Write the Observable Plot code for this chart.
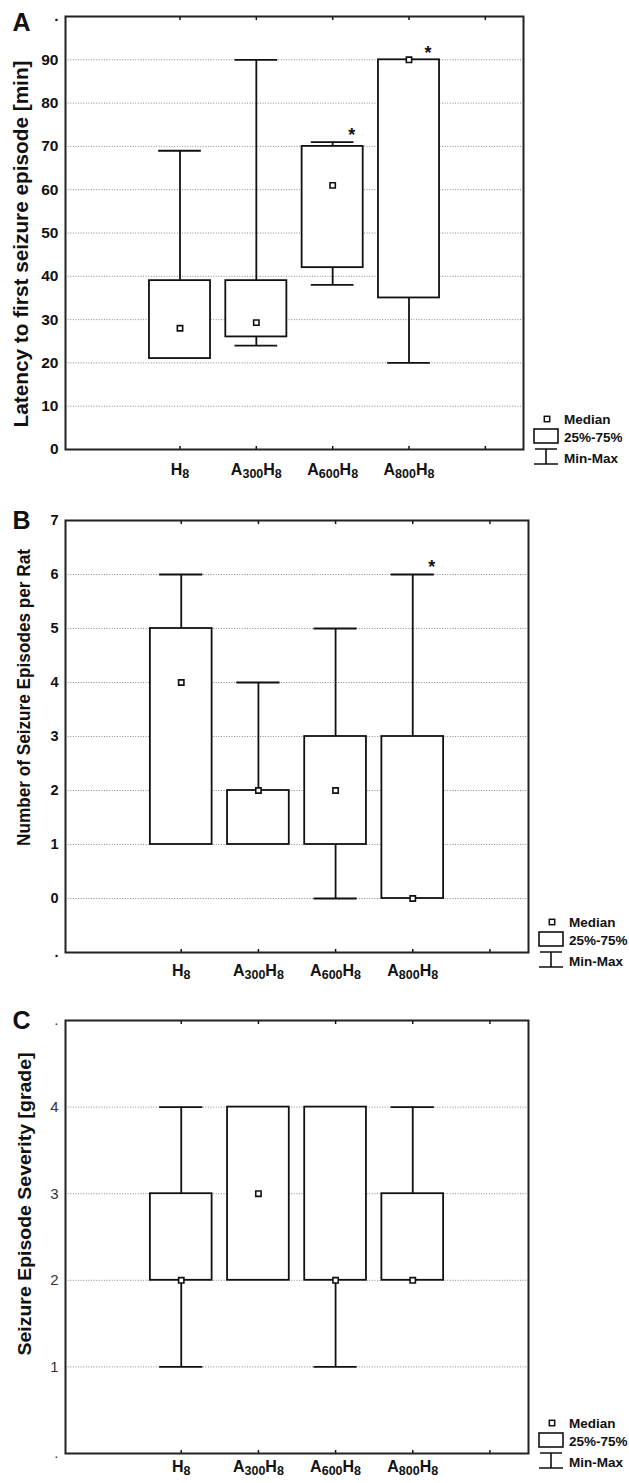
<!DOCTYPE html>
<html><head><meta charset="utf-8">
<script src="https://cdn.jsdelivr.net/npm/d3@7"></script>
<script src="https://cdn.jsdelivr.net/npm/@observablehq/plot@0.6"></script>
<style>
body{margin:0;background:#fff;font-family:"Liberation Sans",Arial,sans-serif;}
#wrap{position:relative;width:629px;height:1483px;overflow:hidden;background:#fff;}
.panel{position:absolute;left:0;}
.legend{position:absolute;}
</style></head><body><div id="wrap"></div>
<script>
// ---- data ----
const groups = ["H₈", "A₃₀₀H₈", "A₆₀₀H₈", "A₈₀₀H₈"];

const latencyMin    = [21, 24, 38, 20];
const latencyQ1     = [21, 26, 42, 35];
const latencyMedian = [28, 29.3, 61, 90];
const latencyQ3     = [39, 39, 70, 90];
const latencyMax    = [69, 90, 71, 90];
const latencySig    = [false, false, true, true];
const latencyTicks  = [0, 10, 20, 30, 40, 50, 60, 70, 80, 90, 100];

const episodesMin    = [1, 1, 0, 0];
const episodesQ1     = [1, 1, 1, 0];
const episodesMedian = [4, 2, 2, 0];
const episodesQ3     = [5, 2, 3, 3];
const episodesMax    = [6, 4, 5, 6];
const episodesSig    = [false, false, false, true];
const episodesTicks  = [-1, 0, 1, 2, 3, 4, 5, 6, 7];

const severityMin    = [1, 2, 1, 2];
const severityQ1     = [2, 2, 2, 2];
const severityMedian = [2, 3, 2, 2];
const severityQ3     = [3, 4, 4, 3];
const severityMax    = [4, 4, 4, 4];
const severitySig    = [false, false, false, false];
const severityTicks  = [0, 1, 2, 3, 4, 5];

const legendLabels = ["Median", "25%-75%", "Min-Max"];

// ---- drawing ----
const FONT = "'Liberation Sans', Arial, sans-serif";
const wrap = document.getElementById("wrap");
const BOX_HALF = 0.4, CAP_HALF = 0.28;

function panel(cfg) {
  const rows = groups.map((g, i) => ({
    i, g, min: cfg.min[i], q1: cfg.q1[i], med: cfg.med[i], q3: cfg.q3[i], max: cfg.max[i], sig: cfg.sig[i]
  }));
  const ends = [cfg.ticks[0], cfg.ticks[cfg.ticks.length - 1]];
  const chart = Plot.plot({
    width: 629, height: cfg.height,
    marginLeft: 65, marginRight: cfg.marginRight, marginTop: cfg.marginTop, marginBottom: cfg.marginBottom,
    style: {fontFamily: FONT, background: "white", overflow: "visible", color: "#111"},
    x: {type: "linear", domain: [-1.5, 4.5]},
    y: {domain: ends},
    marks: [
      Plot.gridY(cfg.ticks.filter(t => !ends.includes(t)), {stroke: "#8c8c8c", strokeOpacity: 1, strokeDasharray: "1,1.6", strokeWidth: 1}),
      Plot.ruleX(rows, {x: "i", y1: "min", y2: "max", stroke: "#111", strokeWidth: 1.8}),
      Plot.ruleY(rows.filter(d => d.max > d.q3), {y: "max", x1: d => d.i - CAP_HALF, x2: d => d.i + CAP_HALF, stroke: "#111", strokeWidth: 1.8}),
      Plot.ruleY(rows.filter(d => d.min < d.q1), {y: "min", x1: d => d.i - CAP_HALF, x2: d => d.i + CAP_HALF, stroke: "#111", strokeWidth: 1.8}),
      Plot.rect(rows, {x1: d => d.i - BOX_HALF, x2: d => d.i + BOX_HALF, y1: "q1", y2: "q3", fill: "white", stroke: "#111", strokeWidth: 1.8}),
      Plot.dot(rows, {x: "i", y: "med", symbol: "square", r: 3, fill: "white", stroke: "#111", strokeWidth: 1.6}),
      Plot.text(rows.filter(d => d.sig), {x: "i", y: "max", text: () => "*", dx: 19, dy: -7, fontSize: 18, fontWeight: "bold", fill: "#111"}),
      Plot.axisY({ticks: cfg.ticks, tickFormat: t => (ends.includes(t) && cfg.dotEnds.includes(t)) ? "." : String(t),
        tickSize: 0, tickPadding: 7, fontSize: cfg.yFont, fontWeight: cfg.yWeight, fill: cfg.yColor, label: null}),
      Plot.axisX({ticks: [0, 1, 2, 3, 4], tickFormat: i => groups[i] ?? "", tickSize: 0, tickPadding: cfg.xPad,
        fontSize: 16, fontWeight: "bold", label: null}),
      Plot.axisX({anchor: "bottom", ticks: [0, 1, 2, 3, 4], tickSize: -3, tickFormat: () => "", label: null, strokeWidth: 1.5}),
      Plot.axisX({anchor: "top", ticks: [0, 1, 2, 3, 4], tickSize: -3, tickFormat: () => "", label: null, strokeWidth: 1.5}),
      Plot.frame({stroke: "#222", strokeWidth: 2}),
      Plot.text([cfg.title], {frameAnchor: "left", rotate: -90, dx: cfg.titleDx, dy: cfg.titleDy, lineAnchor: "top",
        textAnchor: "middle", fontSize: cfg.titleFont, fontWeight: "bold", fill: "#111"}),
      Plot.text([cfg.letter], {frameAnchor: "top-left", dx: -53, dy: cfg.letterDy, lineAnchor: "middle",
        textAnchor: "start", fontSize: 25, fontWeight: "bold", fill: "#111"})
    ]
  });
  const holder = document.createElement("div");
  holder.className = "panel";
  holder.style.top = cfg.top + "px";
  holder.appendChild(chart);
  wrap.appendChild(holder);

  // subscripts in category labels, and title length
  chart.querySelectorAll("text").forEach(t => {
    const s = t.textContent;
    if (/[₀-₉]/.test(s)) {
      const map = {"₀":"0","₁":"1","₂":"2","₃":"3","₄":"4","₅":"5","₆":"6","₇":"7","₈":"8","₉":"9"};
      const runs = s.match(/[₀-₉]+|[^₀-₉]+/g);
      t.textContent = "";
      let sub = false;
      runs.forEach(r => {
        const ts = document.createElementNS("http://www.w3.org/2000/svg", "tspan");
        const isSub = /[₀-₉]/.test(r);
        ts.textContent = isSub ? [...r].map(c => map[c]).join("") : r;
        if (isSub) { ts.setAttribute("font-size", "12.5"); ts.setAttribute("dy", "3"); }
        else if (sub) { ts.setAttribute("dy", "-3"); }
        sub = isSub;
        t.appendChild(ts);
      });
    }
    if (s === cfg.title && cfg.titleLength) {
      t.setAttribute("textLength", cfg.titleLength);
      t.setAttribute("lengthAdjust", "spacingAndGlyphs");
    }
  });

  // legend
  const frameRight = 629 - cfg.marginRight;
  const frameBottom = cfg.top + cfg.height - cfg.marginBottom;
  const ns = "http://www.w3.org/2000/svg";
  const lg = document.createElementNS(ns, "svg");
  lg.setAttribute("width", 100); lg.setAttribute("height", 60);
  lg.setAttribute("class", "legend");
  lg.style.left = (frameRight + 8) + "px";
  lg.style.top = (frameBottom - 38) + "px";
  lg.style.position = "absolute";
  lg.innerHTML = `
    <rect x="13.3" y="5.3" width="5.4" height="5.4" fill="white" stroke="#111" stroke-width="1.5"/>
    <rect x="3" y="18" width="24" height="14" fill="white" stroke="#111" stroke-width="1.6"/>
    <path d="M4,38H26M15,38V53M3,53H27" fill="none" stroke="#111" stroke-width="1.6"/>
    <g font-family="${FONT}" font-size="13.5" font-weight="bold" fill="#111">
      <text x="33" y="8" dy="0.35em">${legendLabels[0]}</text>
      <text x="33" y="26" dy="0.35em">${legendLabels[1]}</text>
      <text x="33" y="47" dy="0.35em">${legendLabels[2]}</text>
    </g>`;
  wrap.appendChild(lg);
}

panel({
  top: 0, height: 490, marginTop: 16, marginBottom: 41, marginRight: 106,
  min: latencyMin, q1: latencyQ1, med: latencyMedian, q3: latencyQ3, max: latencyMax, sig: latencySig,
  ticks: latencyTicks, dotEnds: [100], yFont: 15.5, yWeight: "bold", yColor: "#111", xPad: 14,
  title: "Latency to first seizure episode [min]", titleFont: 20.5, titleDx: -52, titleDy: 11, titleLength: 367,
  letter: "A", letterDy: 6
});
panel({
  top: 500, height: 492, marginTop: 20, marginBottom: 40, marginRight: 101,
  min: episodesMin, q1: episodesQ1, med: episodesMedian, q3: episodesQ3, max: episodesMax, sig: episodesSig,
  ticks: episodesTicks, dotEnds: [-1], yFont: 14.5, yWeight: "bold", yColor: "#111", xPad: 12,
  title: "Number of Seizure Episodes per Rat", titleFont: 18, titleDx: -48, titleDy: -39, titleLength: 297,
  letter: "B", letterDy: 0
});
panel({
  top: 1000, height: 483, marginTop: 20, marginBottom: 30, marginRight: 101,
  min: severityMin, q1: severityQ1, med: severityMedian, q3: severityQ3, max: severityMax, sig: severitySig,
  ticks: severityTicks, dotEnds: [0, 5], yFont: 15, yWeight: "normal", yColor: "#333", xPad: 7,
  title: "Seizure Episode Severity [grade]", titleFont: 18.5, titleDx: -48, titleDy: -33, titleLength: 303,
  letter: "C", letterDy: 0
});
</script></body></html>
